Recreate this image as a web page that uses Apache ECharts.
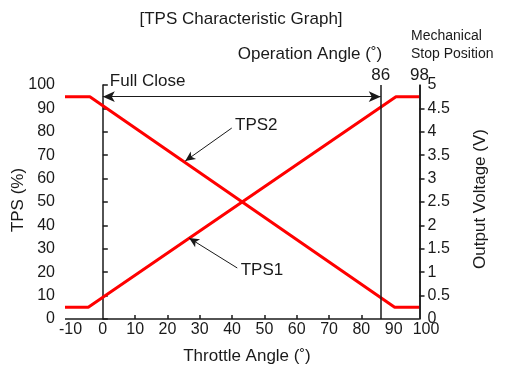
<!DOCTYPE html>
<html>
<head>
<meta charset="utf-8">
<script src="https://cdn.jsdelivr.net/npm/echarts@6/dist/echarts.min.js"></script>
<style>
  html, body { margin: 0; padding: 0; background: #fff; }
  #chart { width: 507px; height: 376px; }
</style>
</head>
<body>
<div id="chart"></div>
<script>
// throttle angle range (deg) and key positions
const angleMin = -11.7;
const angleMax = 100;
const fullClose = 0;
const operationAngle = 86;
const stopAngle = 98;

// TPS output (%) vs throttle angle
const tps1 = [[-11.7, 5], [-4.5, 5], [90.7, 95], [98, 95]];
const tps2 = [[-11.7, 95], [-4, 95], [90.3, 5], [98, 5]];

// axis labels / ticks
const xLabels = [-10, 0, 10, 20, 30, 40, 50, 60, 70, 80, 90, 100];
const xTicks = [10, 20, 30, 40, 50, 60, 70, 80];
const voltTicks = [0.5, 1, 1.5, 2, 2.5, 3, 3.5, 4, 4.5];

// annotation arrows: [head, tail] in data coords
const tps2Arrow = [[25.5, 67.5], [39.9, 81.6]];
const tps1Arrow = [[26.7, 34.6], [41.6, 21.8]];
const fullCloseY = 95;

const font = 'Liberation Sans, Arial, Helvetica, sans-serif';
const ink = '#1a1a1a';
const gridLeft = 65, gridTop = 85, gridW = 361, gridBottom = 57;
// right axis sits at the mechanical stop, not at the axis max
const rightOffset = -(angleMax - stopAngle) / (angleMax - angleMin) * gridW;

const chart = echarts.init(document.getElementById('chart'));

const blackLine = { color: ink, width: 1.5, type: 'solid' };
const thinLine = { color: ink, width: 1, type: 'solid' };

const option = {
    animation: false,
    backgroundColor: '#fff',
    textStyle: { fontFamily: font, color: ink },
    grid: { left: gridLeft, top: gridTop, width: gridW, bottom: gridBottom, outerBoundsMode: 'none', containLabel: false },
    xAxis: {
        type: 'value',
        min: angleMin,
        max: angleMax,
        axisLine: { show: false, onZero: false },
        splitLine: { show: false },
        axisTick: { show: true, inside: true, length: 4, customValues: xTicks, lineStyle: { color: ink, width: 1.5 } },
        axisLabel: { customValues: xLabels, fontSize: 16, color: ink, margin: 3, fontFamily: font }
    },
    yAxis: [{
        type: 'value',
        min: 0,
        max: 100,
        interval: 10,
        position: 'left',
        axisLine: { show: true, onZero: true, lineStyle: { color: ink, width: 1.5 } },
        axisTick: { show: true, inside: true, length: 5, lineStyle: { color: ink, width: 1.5 } },
        splitLine: { show: false },
        axisLabel: { fontSize: 16, color: ink, margin: 10, fontFamily: font }
    }, {
        type: 'value',
        min: 0,
        max: 5,
        interval: 0.5,
        position: 'right',
        offset: rightOffset,
        axisLine: { show: true, onZero: false, lineStyle: { color: ink, width: 1.5 } },
        axisTick: { show: true, length: 5, customValues: voltTicks, lineStyle: { color: ink, width: 1.5 } },
        splitLine: { show: false },
        axisLabel: { fontSize: 16, color: ink, margin: 8, fontFamily: font }
    }],
    series: [{
        name: 'TPS1',
        type: 'line',
        data: tps1,
        symbol: 'none',
        z: 3,
        lineStyle: { color: '#ff0000', width: 3 },
        markLine: {
            silent: true,
            symbol: 'none',
            label: { show: false },
            lineStyle: blackLine,
            data: [
                { xAxis: operationAngle, label: { show: true, position: 'end', formatter: String(operationAngle), distance: 1, fontSize: 17, color: ink, fontFamily: font } },
                { xAxis: stopAngle, label: { show: true, position: 'end', formatter: String(stopAngle), distance: 1, fontSize: 17, color: ink, fontFamily: font } },
                [{ coord: [angleMin, 0] }, { coord: [stopAngle, 0] }],
                [
                    { coord: [fullClose, fullCloseY], symbol: 'arrow', symbolSize: [8, 12], lineStyle: thinLine,
                      label: { show: true, position: 'insideStartTop', formatter: 'Full Close', distance: [7, 7], fontSize: 17, color: ink, fontFamily: font } },
                    { coord: [operationAngle, fullCloseY], symbol: 'arrow', symbolSize: [8, 12] }
                ],
                [
                    { coord: tps2Arrow[0], symbol: 'arrow', symbolSize: [7, 10], lineStyle: thinLine,
                      label: { show: true, position: 'end', formatter: 'TPS2', distance: 4, fontSize: 17, color: ink, fontFamily: font } },
                    { coord: tps2Arrow[1], symbol: 'none' }
                ],
                [
                    { coord: tps1Arrow[0], symbol: 'arrow', symbolSize: [7, 10], lineStyle: thinLine,
                      label: { show: true, position: 'end', formatter: 'TPS1', distance: 4, fontSize: 17, color: ink, fontFamily: font } },
                    { coord: tps1Arrow[1], symbol: 'none' }
                ]
            ]
        }
    }, {
        name: 'TPS2',
        type: 'line',
        data: tps2,
        symbol: 'none',
        z: 3,
        lineStyle: { color: '#ff0000', width: 3 }
    }],
    graphic: [
        { type: 'text', x: 241, y: 19, style: { text: '[TPS Characteristic Graph]', font: '17px ' + font, fill: ink, align: 'center', verticalAlign: 'middle' } },
        { type: 'text', x: 310, y: 54, style: { text: 'Operation Angle (˚)', font: '17px ' + font, fill: ink, align: 'center', verticalAlign: 'middle' } },
        { type: 'text', x: 411, y: 45, style: { text: 'Mechanical\nStop Position', font: '14px ' + font, lineHeight: 18, fill: ink, align: 'left', verticalAlign: 'middle' } },
        { type: 'text', x: 247, y: 356, style: { text: 'Throttle Angle (˚)', font: '17px ' + font, fill: ink, align: 'center', verticalAlign: 'middle' } },
        { type: 'text', x: 18, y: 200, rotation: Math.PI / 2, style: { text: 'TPS (%)', font: '17px ' + font, fill: ink, align: 'center', verticalAlign: 'middle' } },
        { type: 'text', x: 480, y: 199, rotation: Math.PI / 2, style: { text: 'Output Voltage (V)', font: '17px ' + font, fill: ink, align: 'center', verticalAlign: 'middle' } }
    ]
};

chart.setOption(option);
</script>
</body>
</html>
